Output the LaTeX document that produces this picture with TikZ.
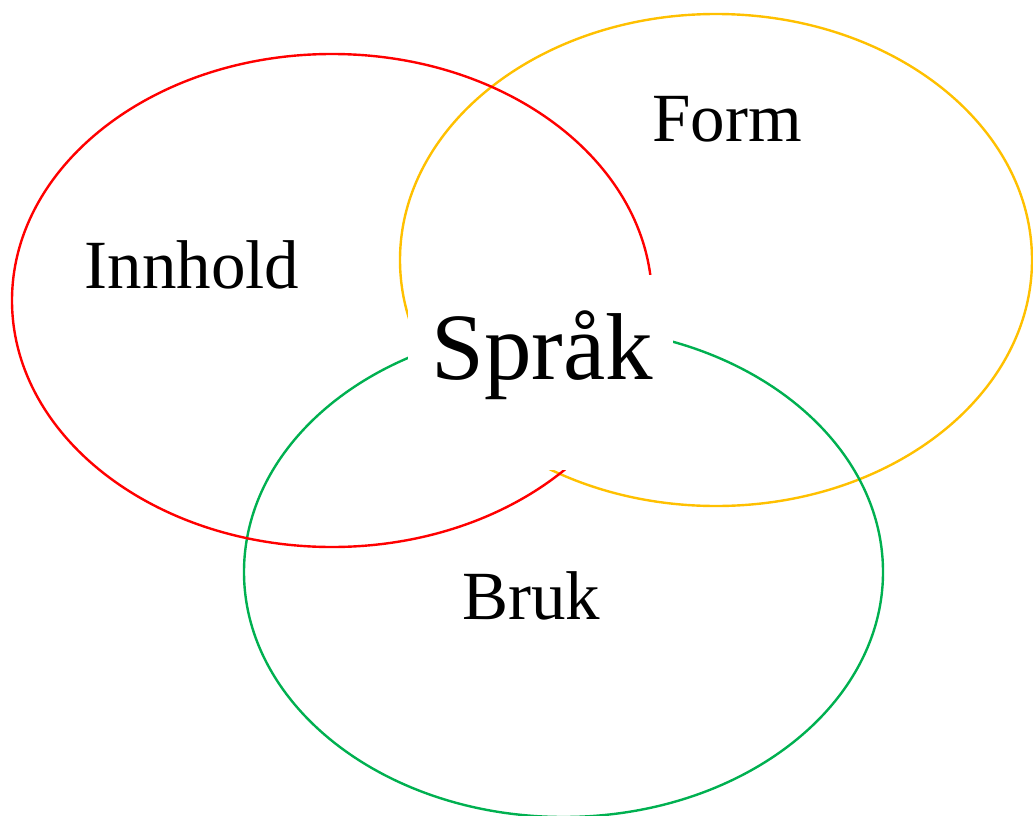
\documentclass[tikz,border=0pt]{standalone}
\usepackage{fontspec}
\setmainfont{Liberation Serif}
\definecolor{cred}{HTML}{FF0000}
\definecolor{cyellow}{HTML}{FFC000}
\definecolor{cgreen}{HTML}{00B050}
\begin{document}
\begin{tikzpicture}[x=1pt,y=-1pt,
  ring/.style={line width=2.4pt},
  lbl/.style={anchor=base,inner sep=0pt,font=\fontsize{69}{80}\selectfont},
  big/.style={anchor=base,inner sep=0pt,font=\fontsize{95}{110}\selectfont}]
\useasboundingbox (0,0) rectangle (1033,816);
\draw[ring,cyellow] (716,260) ellipse (316 and 246);
\draw[ring,cgreen] (563.5,572) ellipse (319.5 and 245);
\draw[ring,cred] (332,300.5) ellipse (320 and 246.5);
\node[fill=white,inner sep=0pt,minimum width=265pt,minimum height=195pt] (mask) at (540.5,372.5) {};
\node[big] (sprak) at (542,379) {Språk};
\node[lbl] (innhold) at (192,288) {Innhold};
\node[lbl] (form) at (727,141) {Form};
\node[lbl] (bruk) at (531,619) {Bruk};
\end{tikzpicture}
\end{document}
